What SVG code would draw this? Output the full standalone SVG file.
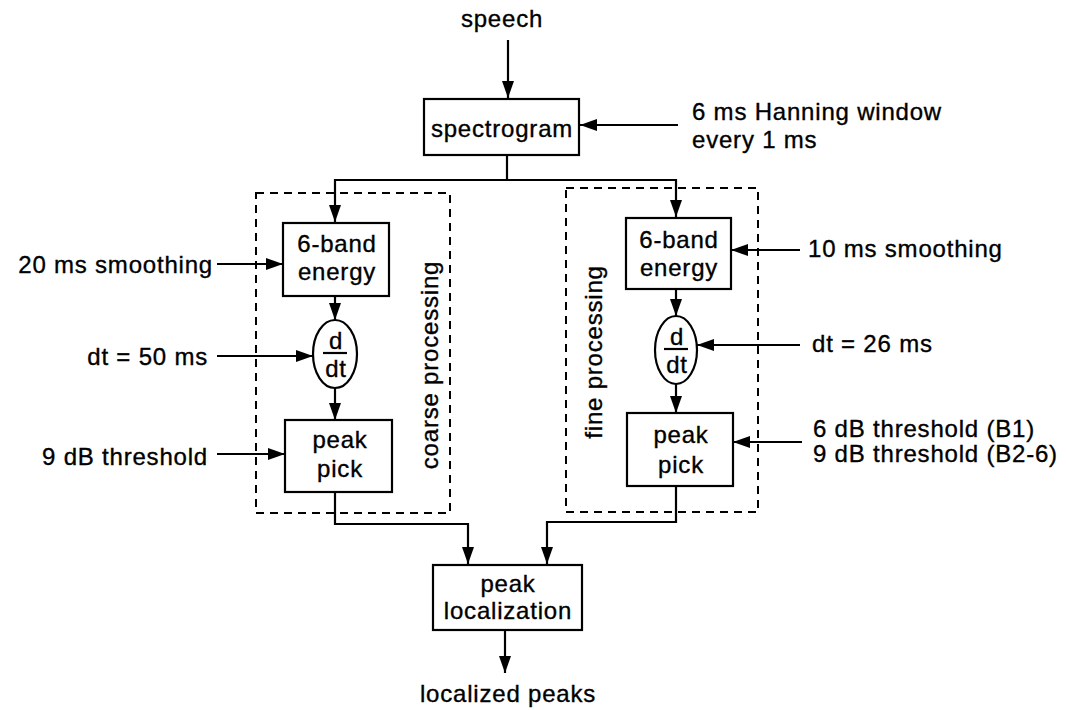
<svg xmlns="http://www.w3.org/2000/svg" width="1066" height="710" viewBox="0 0 1066 710">
<defs>
<marker id="ah" markerUnits="userSpaceOnUse" markerWidth="18" markerHeight="12" refX="17" refY="6" orient="auto" viewBox="0 0 18 12">
<path d="M0,0 L17,6 L0,12 Z" fill="#000"/>
</marker>
</defs>
<style>
text{font-family:"Liberation Sans",Arial,sans-serif;font-size:24px;letter-spacing:0.8px;fill:#000;stroke:#000;stroke-width:0.35}
.c{text-anchor:middle}
.e{text-anchor:end}
.box{fill:#fff;stroke:#000;stroke-width:2.2}
.dash{fill:none;stroke:#000;stroke-width:2;stroke-dasharray:8 6}
.ln{fill:none;stroke:#000;stroke-width:2.2}
.ar{fill:none;stroke:#000;stroke-width:2.2;marker-end:url(#ah)}
</style>
<rect width="1066" height="710" fill="#fff"/>

<g id="groups">
<rect id="coarse-group" class="dash" x="256" y="193" width="194" height="320"/>
<rect id="fine-group" class="dash" x="566" y="188" width="192" height="324"/>
<text x="438" y="365" class="c" transform="rotate(-90 438 365)">coarse processing</text>
<text x="602" y="352" class="c" transform="rotate(-90 602 352)">fine processing</text>
</g>

<g id="connectors">
<path class="ar" d="M508,40 V98"/>
<path class="ar" d="M678,125 H580"/>
<path class="ln" d="M507,155 V180"/>
<path class="ar" d="M507,180 H335 V222"/>
<path class="ar" d="M507,180 H676 V217"/>
<path class="ar" d="M335,296 V320"/>
<path class="ar" d="M335,388 V420"/>
<path class="ar" d="M676,289 V316"/>
<path class="ar" d="M676,383 V413"/>
<path class="ar" d="M217,264 H283"/>
<path class="ar" d="M217,356 H313"/>
<path class="ar" d="M217,454 H285"/>
<path class="ar" d="M800,250 H731"/>
<path class="ar" d="M800,345 H697"/>
<path class="ar" d="M802,442 H733"/>
<path class="ar" d="M335,492 V524 H468 V564"/>
<path class="ar" d="M676,486 V522 H547 V564"/>
<path class="ar" d="M505,630 V673"/>
</g>

<g id="spectrogram">
<rect class="box" x="424" y="99" width="155" height="56"/>
<text x="502" y="137" class="c">spectrogram</text>
</g>

<g id="coarse-energy">
<rect class="box" x="283" y="223" width="106" height="73"/>
<text x="337" y="252" class="c">6-band</text>
<text x="337" y="280" class="c">energy</text>
</g>
<g id="coarse-deriv">
<ellipse class="box" cx="335" cy="354" rx="22" ry="34"/>
<text x="336" y="349" class="c">d</text>
<line class="ln" x1="323" y1="353" x2="347" y2="353"/>
<text x="336" y="377" class="c">dt</text>
</g>
<g id="coarse-peak">
<rect class="box" x="285" y="420" width="107" height="72"/>
<text x="340" y="448" class="c">peak</text>
<text x="340" y="477" class="c">pick</text>
</g>

<g id="fine-energy">
<rect class="box" x="626" y="218" width="105" height="71"/>
<text x="679" y="248" class="c">6-band</text>
<text x="679" y="276" class="c">energy</text>
</g>
<g id="fine-deriv">
<ellipse class="box" cx="676" cy="350" rx="21" ry="34"/>
<text x="677" y="345" class="c">d</text>
<line class="ln" x1="664" y1="349" x2="688" y2="349"/>
<text x="677" y="373" class="c">dt</text>
</g>
<g id="fine-peak">
<rect class="box" x="627" y="413" width="106" height="73"/>
<text x="681" y="443" class="c">peak</text>
<text x="681" y="473" class="c">pick</text>
</g>

<g id="peak-localization">
<rect class="box" x="433" y="565" width="149" height="65"/>
<text x="508" y="592" class="c">peak</text>
<text x="508" y="619" class="c">localization</text>
</g>

<g id="labels">
<text x="502" y="27" class="c">speech</text>
<text x="692" y="120">6 ms Hanning window</text>
<text x="692" y="148">every 1 ms</text>
<text x="213" y="273" class="e">20 ms smoothing</text>
<text x="208" y="365" class="e">dt = 50 ms</text>
<text x="208" y="465" class="e">9 dB threshold</text>
<text x="808" y="257">10 ms smoothing</text>
<text x="812" y="352">dt = 26 ms</text>
<text x="813" y="437">6 dB threshold (B1)</text>
<text x="813" y="462">9 dB threshold (B2-6)</text>
<text x="508" y="702" class="c">localized peaks</text>
</g>
</svg>
